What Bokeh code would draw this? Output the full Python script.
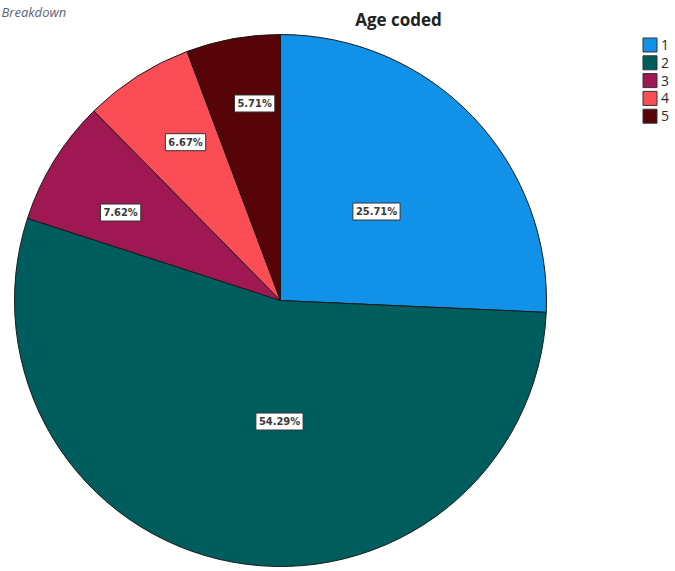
import math
from bokeh.plotting import figure
from bokeh.models import Range1d, ColumnDataSource
from bokeh.core.properties import value
from bokeh.embed import file_html
from bokeh.resources import INLINE

# Age groups (coded) and their share of respondents, in percent
categories = ["1", "2", "3", "4", "5"]
percents = [25.71, 54.29, 7.62, 6.67, 5.71]
colors = ["#1192e8", "#005d5d", "#9f1853", "#fa4d56", "#570408"]

W, H = 675, 571
CX, CY, R = 280, H - 300, 266

# label placement: radius fraction and small angular nudge per slice
label_rfrac = [0.492, 0.455, 0.686, 0.694, 0.747]
label_nudge = [-0.9, 9.8, 2.9, -1.6, -2.8]

p = figure(width=W, height=H, output_backend="svg", toolbar_location=None,
           x_range=Range1d(0, W), y_range=Range1d(0, H), min_border=0)
p.axis.visible = False
p.grid.visible = False
p.outline_line_color = None
p.background_fill_color = "white"
p.border_fill_color = "white"

total = sum(percents)
starts, ends, lx, ly, texts = [], [], [], [], []
cum = 0.0
for i, v in enumerate(percents):
    a0 = math.pi / 2 - 2 * math.pi * (cum + v) / total
    a1 = math.pi / 2 - 2 * math.pi * cum / total
    starts.append(a0)
    ends.append(a1)
    mid = (a0 + a1) / 2 + math.radians(label_nudge[i])
    lx.append(CX + R * label_rfrac[i] * math.cos(mid))
    ly.append(CY + R * label_rfrac[i] * math.sin(mid))
    texts.append(f"{v:.2f}%")
    cum += v

# legend swatch rows, stacked downward from the top right
leg_x = [649.5] * len(categories)
leg_y = [H - 44.5 - 17.8 * i for i in range(len(categories))]

src = ColumnDataSource(dict(cat=categories, start=starts, end=ends,
                            color=colors, lx=lx, ly=ly, txt=texts,
                            gx=leg_x, gy=leg_y, tx=[x + 11 for x in leg_x]))

p.wedge(x=CX, y=CY, radius=R, start_angle="start", end_angle="end",
        fill_color="color", line_color="#1a1a1a", line_width=1, source=src)

p.text(x="lx", y="ly", text="txt", source=src,
       text_align="center", text_baseline="middle",
       text_font=value("DejaVu Sans Condensed"), text_font_size="11px",
       text_font_style="bold", text_color="#3a3a3a",
       background_fill_color="white", border_line_color="#333333",
       border_line_width=1, padding=[3, 2])

# chart title
p.text(x=[398], y=[H - 19], text=["Age coded"], text_align="center",
       text_baseline="middle", text_font=value("Open Sans"),
       text_font_size="17px", text_font_style="bold", text_color="#222222")

# caption of the preceding section
p.text(x=[1], y=[H - 11], text=["Breakdown"], text_align="left",
       text_baseline="alphabetic", text_font=value("Open Sans"),
       text_font_size="13px", text_font_style="italic", text_color="#5b6478")

# legend
p.rect(x="gx", y="gy", width=14, height=14, fill_color="color",
       line_color="#333333", line_width=1, source=src)
p.text(x="tx", y="gy", text="cat", source=src, text_align="left",
       text_baseline="middle", text_font=value("Open Sans"),
       text_font_size="14px", text_color="#2a2a2a")

open("out.html", "w").write(file_html(p, INLINE))
